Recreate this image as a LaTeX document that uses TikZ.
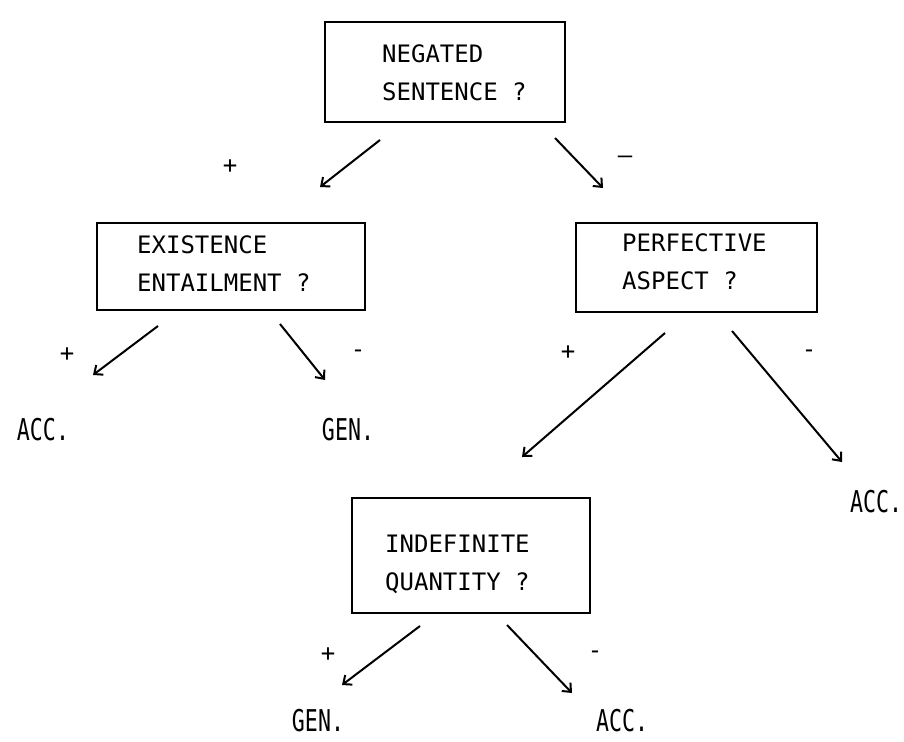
\documentclass[tikz,border=0pt]{standalone}
\usepackage{fontspec}
\newfontfamily\tw{DejaVu Sans Mono}
\newfontfamily\twn[FakeStretch=0.72]{DejaVu Sans Mono}
\usetikzlibrary{arrows.meta}
\begin{document}
\begin{tikzpicture}[x=1pt,y=-1pt,
  qbox/.style={draw, line width=2.4pt, rectangle, inner sep=0pt},
  qtext/.style={font=\tw\fontsize{24}{38}\selectfont, align=left, anchor=west, inner sep=0pt},
  leaf/.style={font=\twn\fontsize{30}{30}\selectfont, inner sep=0pt},
  sgn/.style={font=\tw\fontsize{24}{24}\selectfont, inner sep=0pt},
  arr/.style={line width=2pt, -{Straight Barb[length=7pt,width=12pt,line width=2pt]}}
]
\useasboundingbox (0,0) rectangle (904,741);

% question boxes
\node[qbox, minimum width=240pt, minimum height=100pt] (q1) at (445,72) {};
\node[qtext] (t1) at (382,73) {NEGATED\\SENTENCE ?};

\node[qbox, minimum width=268pt, minimum height=87pt] (q2) at (231,266.5) {};
\node[qtext] (t2) at (137,264) {EXISTENCE\\ENTAILMENT ?};

\node[qbox, minimum width=241pt, minimum height=89pt] (q3) at (696.5,267.5) {};
\node[qtext] (t3) at (622,262) {PERFECTIVE\\ASPECT ?};

\node[qbox, minimum width=238pt, minimum height=115pt] (q4) at (471,555.5) {};
\node[qtext] (t4) at (385,564) {INDEFINITE\\QUANTITY ?};

% leaves
\node[leaf] (l1) at (43,430) {ACC.};
\node[leaf] (l2) at (348,430) {GEN.};
\node[leaf] (l3) at (876,502) {ACC.};
\node[leaf] (l4) at (318,721) {GEN.};
\node[leaf] (l5) at (622,721) {ACC.};

% arrow end points
\coordinate (s1) at (380,140); \coordinate (e1) at (320,187);
\coordinate (s2) at (555,138); \coordinate (e2) at (603,188);
\coordinate (s3) at (158,326); \coordinate (e3) at (93,375);
\coordinate (s4) at (280,324); \coordinate (e4) at (325,380);
\coordinate (s5) at (665,333); \coordinate (e5) at (522,457);
\coordinate (s6) at (732,331); \coordinate (e6) at (842,462);
\coordinate (s7) at (420,626); \coordinate (e7) at (342,685);
\coordinate (s8) at (507,625); \coordinate (e8) at (572,693);

\draw[arr] (s1) -- (e1);
\draw[arr] (s2) -- (e2);
\draw[arr] (s3) -- (e3);
\draw[arr] (s4) -- (e4);
\draw[arr] (s5) -- (e5);
\draw[arr] (s6) -- (e6);
\draw[arr] (s7) -- (e7);
\draw[arr] (s8) -- (e8);

% signs
\node[sgn] (p1) at (230,167) {+};
\node[sgn] (m1) at (625,160) {\textendash};
\node[sgn] (p2) at (67,355) {+};
\node[sgn] (m2) at (358,354) {-};
\node[sgn] (p3) at (568,353) {+};
\node[sgn] (m3) at (809,354) {-};
\node[sgn] (p4) at (328,655) {+};
\node[sgn] (m4) at (595,655) {-};
\end{tikzpicture}
\end{document}
